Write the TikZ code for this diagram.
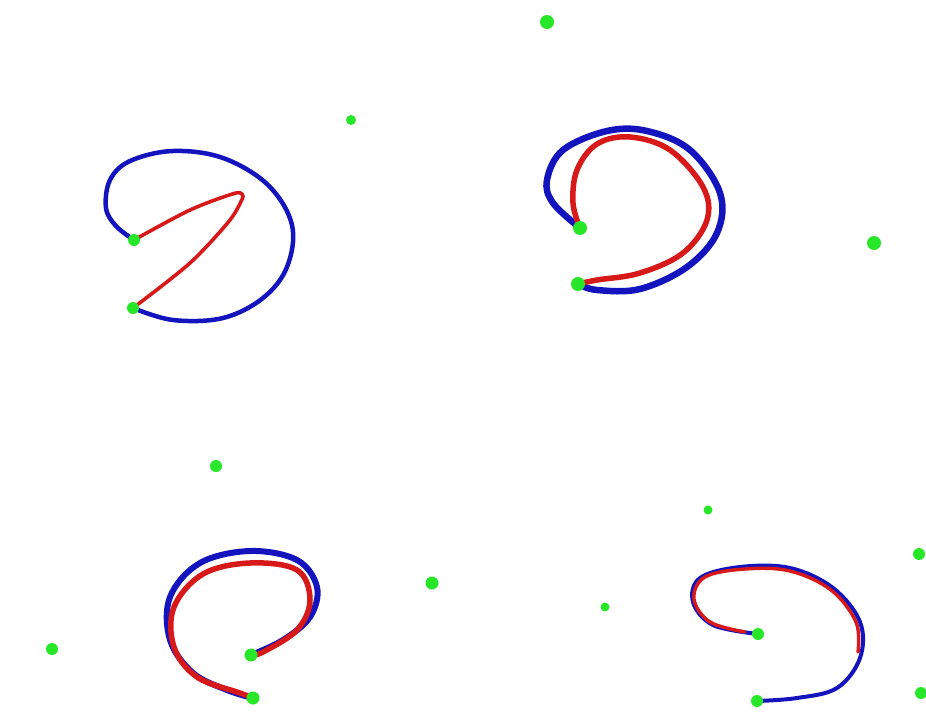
\documentclass[tikz,border=0pt]{standalone}
\usepackage{xcolor}
\usepackage{tikz}
\definecolor{pathblue}{RGB}{20,20,190}
\definecolor{pathred}{RGB}{215,25,25}
\definecolor{ptgreen}{RGB}{40,230,40}

\begin{document}
\begin{tikzpicture}[
  x=1pt, y=-1pt,
  dot/.style={circle, fill=ptgreen, inner sep=0pt, minimum size=12pt},
  smalldot/.style={dot, minimum size=9pt},
  bigdot/.style={dot, minimum size=14pt},
  blueline/.style={draw=pathblue, line width=4.5pt, line cap=round, line join=round},
  redline/.style={draw=pathred, line width=3.6pt, line cap=round, line join=round}
]
\useasboundingbox (0,0) rectangle (926,715);
\fill[white] (0,0) rectangle (926,715);

% endpoints
\coordinate (a1) at (134,240);
\coordinate (a2) at (133,308);
\coordinate (b1) at (580,228);
\coordinate (b2) at (578,284);
\coordinate (c1) at (251,655);
\coordinate (c2) at (253,698);
\coordinate (d1) at (758,634);
\coordinate (d2) at (757,701);

% top left
\draw[blueline] plot[smooth, tension=0.6] coordinates {(a1) (116,226) (106,208) (110,180) (130,161) (173,151) (223,158) (268,185) (292,225) (287,267) (263,298) (223,318) (173,320) (a2)};
\draw[redline] plot[smooth, tension=0.5] coordinates {(a1) (190,210) (236,193) (243,197)};
\draw[redline] plot[smooth, tension=0.5] coordinates {(243,197) (230,220) (190,263) (a2)};

% top right
\draw[blueline, line width=6.5pt] plot[smooth, tension=0.6] coordinates {(b1) (553,203) (547,180) (563,150) (607,131) (647,131) (690,150) (720,193) (717,233) (687,267) (640,289) (597,290) (b2)};
\draw[redline, line width=5.5pt] plot[smooth, tension=0.6] coordinates {(b1) (573,203) (577,170) (597,144) (630,137) (670,150) (703,187) (707,220) (683,253) (640,273) (597,280) (b2)};

% bottom left
\draw[blueline, line width=6pt] plot[smooth, tension=0.6] coordinates {(c1) (283,640) (310,617) (317,587) (297,560) (250,551) (200,563) (170,597) (170,640) (193,673) (227,690) (c2)};
\draw[redline, line width=5.5pt] plot[smooth, tension=0.6] coordinates {(c1) (263,652) (297,630) (310,600) (297,570) (250,563) (203,574) (174,607) (174,647) (197,677) (240,693) (c2)};

% bottom right
\draw[blueline, line width=4pt] plot[smooth, tension=0.6] coordinates {(d1) (713,625) (693,602) (700,578) (740,567) (790,568) (833,588) (860,622) (860,658) (837,688) (797,698) (d2)};
\draw[redline, line width=3.4pt] plot[smooth, tension=0.6] coordinates {(745,632) (710,622) (694,599) (705,577) (745,569) (790,571) (831,590) (856,622) (858,652)};

% points
\node[dot] (p1) at (a1) {};
\node[dot] (p2) at (a2) {};
\node[dot, minimum size=14pt] (p3) at (b1) {};
\node[dot, minimum size=14pt] (p4) at (b2) {};
\node[dot, minimum size=13pt] (p5) at (c1) {};
\node[dot, minimum size=13pt] (p6) at (c2) {};
\node[dot] (p7) at (d1) {};
\node[dot] (p8) at (d2) {};
\node[bigdot] (q1) at (547,22) {};
\node[smalldot, minimum size=10pt] (q2) at (351,120) {};
\node[bigdot] (q3) at (874,243) {};
\node[dot] (q4) at (216,466) {};
\node[smalldot] (q5) at (708,510) {};
\node[dot, minimum size=13pt] (q6) at (432,583) {};
\node[smalldot] (q7) at (605,607) {};
\node[dot] (q8) at (52,649) {};
\node[dot] (q9) at (919,554) {};
\node[dot] (q10) at (921,693) {};
\end{tikzpicture}
\end{document}
